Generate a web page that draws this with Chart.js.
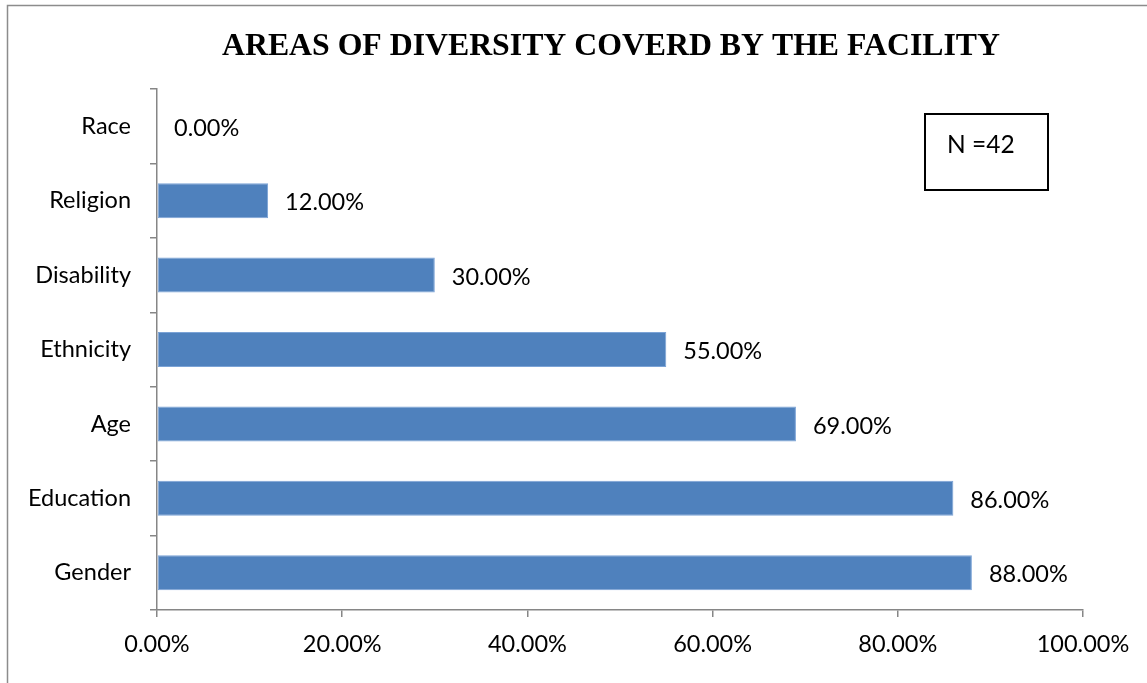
<!DOCTYPE html>
<html>
<head>
<meta charset="utf-8">
<script src="https://cdn.jsdelivr.net/npm/chart.js@4"></script>
<style>
  html, body { margin: 0; padding: 0; background: #fff; }
  #wrap { width: 1147px; height: 683px; position: relative; }
</style>
</head>
<body>
<div id="wrap"><canvas id="chart"></canvas></div>
<script>
const categories = ['Race', 'Religion', 'Disability', 'Ethnicity', 'Age', 'Education', 'Gender'];
const shares = [0, 12, 30, 55, 69, 86, 88];
const xTicks = [0, 20, 40, 60, 80, 100];
const chartTitle = 'AREAS OF DIVERSITY COVERD BY THE FACILITY';
const sampleNote = 'N =42';

const axisGray = '#868686';
const labelFont = { family: 'Lato, "Open Sans", sans-serif', size: 23.5 };

// outer frame, title and the N box
const decor = {
    id: 'decor',
    beforeDraw(chart) {
        const ctx = chart.ctx;
        ctx.save();
        ctx.fillStyle = '#fff';
        ctx.fillRect(0, 0, chart.width, chart.height);
        ctx.strokeStyle = '#8c8c8c';
        ctx.lineWidth = 1.5;
        ctx.strokeRect(7.5, 5.5, chart.width + 10, chart.height + 10);
        ctx.restore();
    },
    afterDraw(chart) {
        const ctx = chart.ctx;
        ctx.save();
        ctx.fillStyle = '#000';
        ctx.font = 'bold 32px "Liberation Serif", "Times New Roman", serif';
        ctx.textAlign = 'center';
        ctx.textBaseline = 'alphabetic';
        // fit the title to the width it has in the source
        const w = ctx.measureText(chartTitle).width;
        ctx.translate(611, 55);
        ctx.scale(778 / w, 1);
        ctx.fillText(chartTitle, 0, 0);
        ctx.setTransform(1, 0, 0, 1, 0, 0);

        ctx.strokeStyle = '#000';
        ctx.lineWidth = 2;
        ctx.strokeRect(925, 114, 123, 76);
        ctx.font = '24.5px ' + labelFont.family;
        ctx.textAlign = 'left';
        ctx.fillText(sampleNote, 947, 152.5);
        ctx.restore();
    }
};

// value labels to the right of each bar
const valueLabels = {
    id: 'valueLabels',
    afterDatasetsDraw(chart) {
        const ctx = chart.ctx;
        const meta = chart.getDatasetMeta(0);
        ctx.save();
        ctx.fillStyle = '#000';
        ctx.font = labelFont.size + 'px ' + labelFont.family;
        ctx.textAlign = 'left';
        ctx.textBaseline = 'middle';
        meta.data.forEach((bar, i) => {
            ctx.fillText(shares[i].toFixed(2) + '%', bar.x + 17, bar.y + 2);
        });
        ctx.restore();
    }
};

new Chart(document.getElementById('chart'), {
    type: 'bar',
    data: {
        labels: categories,
        datasets: [{
            data: shares,
            backgroundColor: '#4F81BD',
            borderColor: '#7BA3D6',
            borderWidth: 1,
            borderSkipped: false,
            categoryPercentage: 1,
            barPercentage: 0.47
        }]
    },
    options: {
        indexAxis: 'y',
        responsive: true,
        maintainAspectRatio: false,
        animation: false,
        layout: { padding: { top: 89, left: 10, right: 64, bottom: 20 } },
        plugins: {
            legend: { display: false },
            tooltip: { enabled: false },
            title: { display: false }
        },
        scales: {
            x: {
                type: 'linear',
                min: 0,
                max: 100,
                afterBuildTicks(scale) {
                    scale.ticks = xTicks.map(v => ({ value: v }));
                },
                afterFit(scale) { scale.height = 53; },
                grid: { drawOnChartArea: false, color: axisGray, tickLength: 7, lineWidth: 1.5 },
                border: { color: axisGray, width: 1.5 },
                ticks: {
                    color: '#000',
                    font: labelFont,
                    padding: 13,
                    maxRotation: 0,
                    callback: v => v.toFixed(2) + '%'
                }
            },
            y: {
                afterFit(scale) { scale.width = 147; },
                grid: { drawOnChartArea: false, color: axisGray, tickLength: 7, lineWidth: 1.5, offset: true },
                border: { color: axisGray, width: 1.5 },
                ticks: { color: '#000', font: labelFont, padding: 19 }
            }
        }
    },
    plugins: [decor, valueLabels]
});
</script>
</body>
</html>
